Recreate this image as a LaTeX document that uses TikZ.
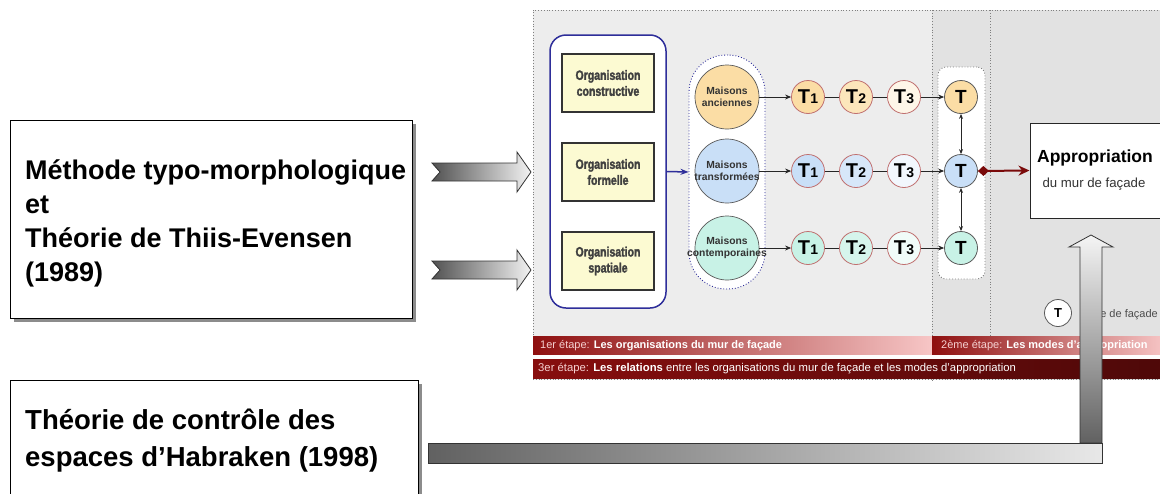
\documentclass[tikz,border=0pt]{standalone}
\usepackage{fontspec}
\setmainfont{Liberation Sans}
\newfontfamily\narrowfont[FakeStretch=0.78,FakeBold=2]{Liberation Sans}
\usetikzlibrary{arrows.meta}
\definecolor{panelA}{HTML}{EDEDED}
\definecolor{panelB}{HTML}{E2E2E2}
\definecolor{navyc}{HTML}{2E2E9A}
\definecolor{yellowc}{HTML}{FCFAD2}
\definecolor{orangeT}{HTML}{FBDDA5}
\definecolor{blueT}{HTML}{C9DFF7}
\definecolor{aquaT}{HTML}{C8F2E6}
\definecolor{tborder}{HTML}{C07070}
\definecolor{darkred}{HTML}{7A0A0A}
\definecolor{bandDark}{HTML}{8E0F0F}
\definecolor{bandLight}{HTML}{F7C6C6}
\definecolor{pinktext}{HTML}{F5D0D0}
\newcommand\tlab[1]{T\kern0.3pt{\fontsize{14}{14}\selectfont #1}}
\tikzset{
  orgbox/.style={draw=black!80, line width=1.4, fill=yellowc, minimum width=92, minimum height=58,
    align=center, text=black!75, font=\narrowfont\bfseries\fontsize{13.5}{16}\selectfont},
  mcirc/.style={circle, minimum size=64, inner sep=0, draw=gray!70!black, line width=0.7},
  mtext/.style={align=center, inner sep=0, text=black!80, font=\bfseries\fontsize{10.3}{12.5}\selectfont},
  tcirc/.style={circle, minimum size=33, inner sep=0, draw=tborder, line width=0.8,
    font=\bfseries\fontsize{20}{20}\selectfont},
  fcirc/.style={circle, minimum size=33, inner sep=0, draw=gray!70!black, line width=0.8,
    font=\bfseries\fontsize{19}{19}\selectfont},
  garrow/.style={draw=gray!30!black, line width=0.8, -{Stealth[length=6,width=5]}},
  gline/.style={draw=gray!30!black, line width=0.8},
  vdarrow/.style={draw=gray!30!black, line width=0.8, {Stealth[length=5,width=4]}-{Stealth[length=5,width=4]}},
  bigarrow/.style={draw=black!80, line width=0.8, left color=black!68, right color=black!5},
  leftbox/.style={draw=black, line width=1, fill=white},
  shadowbox/.style={fill=black!45},
  bandtext/.style={anchor=west, inner sep=0, text=white, font=\fontsize{11}{12}\selectfont},
}
\begin{document}
\begin{tikzpicture}[x=1pt,y=-1pt]
\useasboundingbox (0,0) rectangle (1160,493);
% panel background
\fill[panelA] (533,10) rectangle (932,380);
\fill[panelB] (932,10) rectangle (1165,380);
\draw[gray, dotted, line width=0.8] (533,380) -- (533,10) -- (1165,10);
\draw[gray, dotted, line width=0.8] (932,10) -- (932,380);
\draw[gray, dotted, line width=0.8] (990,10) -- (990,336);
\draw[gray, dotted, line width=0.8] (533,379) -- (1165,379);
% bands
\fill[white!90!panelA] (533,354) rectangle (1165,359);
\shade[left color=bandDark, right color=bandLight] (533,336) rectangle (932,354);
\shade[left color=bandDark, right color=bandLight] (932,336) rectangle (1165,354);
\shade[left color=bandDark!95!black, right color=bandDark!55!black] (533,359) rectangle (1165,378);
\node[bandtext] (band1) at (540,345.5) {\textcolor{pinktext}{1er étape:} \textbf{Les organisations du mur de façade}};
\node[bandtext] (band2) at (941,345.5) {\textcolor{pinktext}{2ème étape:} \textbf{Les modes d'appropriation}};
\node[bandtext, font=\fontsize{11.3}{12}\selectfont] (band3) at (538,369) {\textcolor{pinktext}{3er étape:} \textbf{Les relations} entre les organisations du mur de façade et les modes d'appropriation};
% group box
\node[draw=navyc, line width=1.5, fill=white, rounded corners=16, minimum width=116, minimum height=273] (grp) at (608,171.5) {};
\node[orgbox] (o1) at (608,83) {Organisation\\constructive};
\node[orgbox] (o2) at (608,172) {Organisation\\formelle};
\node[orgbox] (o3) at (608,261) {Organisation\\spatiale};
% maisons column
\node[draw=navyc, dotted, line width=0.9, fill=white, rounded corners=37, minimum width=76, minimum height=234] (col) at (727,172) {};
\draw[navyc, line width=1.5, -{Stealth[length=8,width=6]}] (grp.east) -- (col.west);
\node[mcirc, fill=orangeT] (m1) at (727,97) {};
\node[mcirc, fill=blueT] (m2) at (727,171) {};
\node[mcirc, fill=aquaT] (m3) at (727,248) {};
\node[mtext] (m1t) at (m1) {Maisons\\anciennes};
\node[mtext] (m2t) at (m2) {Maisons\\transformées};
\node[mtext] (m3t) at (m3) {Maisons\\contemporaines};
% final T column
\node[draw=gray, dotted, line width=0.9, fill=white, rounded corners=8, minimum width=47, minimum height=212] (fcol) at (961.5,173) {};
% rows
\foreach \r/\y/\c in {1/97/orangeT, 2/171/blueT, 3/248/aquaT}{
  \node[tcirc, fill=\c] (a\r) at (808,\y) {\tlab{1}};
  \node[tcirc, fill=\c!75!white] (b\r) at (856,\y) {\tlab{2}};
  \node[tcirc, fill=\c!25!white] (c\r) at (904,\y) {\tlab{3}};
  \node[fcirc, fill=\c] (f\r) at (961,\y) {T};
  \draw[garrow] (m\r) -- (a\r);
  \draw[gline] (a\r) -- (b\r);
  \draw[gline] (b\r) -- (c\r);
  \draw[garrow] (c\r) -- (f\r);
}
\draw[vdarrow] (f1) -- (f2);
\draw[vdarrow] (f2) -- (f3);
% appropriation
\node[draw=black!85, line width=1, fill=white, minimum width=133, minimum height=95] (app) at (1096.5,170.5) {};
\node[inner sep=0, font=\bfseries\fontsize{17.5}{19}\selectfont] (appt) at (1095,158) {Appropriation};
\node[inner sep=0, text=black!80, font=\fontsize{13.2}{15}\selectfont] (apps) at (1094,184) {du mur de façade};
\draw[darkred, line width=2, {Diamond[length=11,width=10]}-{Stealth[length=11,width=10]}] (f2.east) -- (app.west);
% legend
\node[circle, minimum size=27, inner sep=0, draw=gray!70!black, line width=0.8, fill=white, font=\bfseries\fontsize{13}{13}\selectfont] (leg) at (1058,313) {T};
\node[anchor=east, inner sep=0, text=black!70, font=\fontsize{11}{12}\selectfont] (legt) at (1158,315) {Type de façade};
% left boxes
\fill[shadowbox] (13.5,123.5) rectangle (415.5,321.5);
\node[leftbox, anchor=north west, minimum width=402, minimum height=198] (box1) at (10,120) {};
\node[anchor=north west, inner sep=0, align=left, font=\bfseries\fontsize{27}{34}\selectfont] (box1t) at (25,159) {Méthode typo-morphologique\\et\\Théorie de Thiis-Evensen\\(1989)};
\fill[shadowbox] (13.5,383.5) rectangle (421.5,500);
\node[leftbox, anchor=north west, minimum width=408, minimum height=120] (box2) at (10,380) {};
\node[anchor=north west, inner sep=0, align=left, font=\bfseries\fontsize{27.5}{37}\selectfont] (box2t) at (25,409) {Théorie de contrôle des\\espaces d’Habraken (1998)};
% right block arrows
\foreach \c/\n in {172/ar1, 270/ar2}{
  \shadedraw[bigarrow] (432,\c-9) -- (517,\c-9) -- (517,\c-20) -- (531,\c) -- (517,\c+20) -- (517,\c+9) -- (432,\c+9) -- (440,\c) -- cycle;
}
% L arrow
\shadedraw[draw=black!80, line width=0.8, top color=black!4, bottom color=black!62]
  (1080,443) -- (1080,247) -- (1069,247) -- (1091,235) -- (1113,247) -- (1102,247) -- (1102,443) -- cycle;
\shadedraw[draw=black!80, line width=0.8, left color=black!62, right color=black!9] (428,443) rectangle (1102,463);
\end{tikzpicture}
\end{document}
